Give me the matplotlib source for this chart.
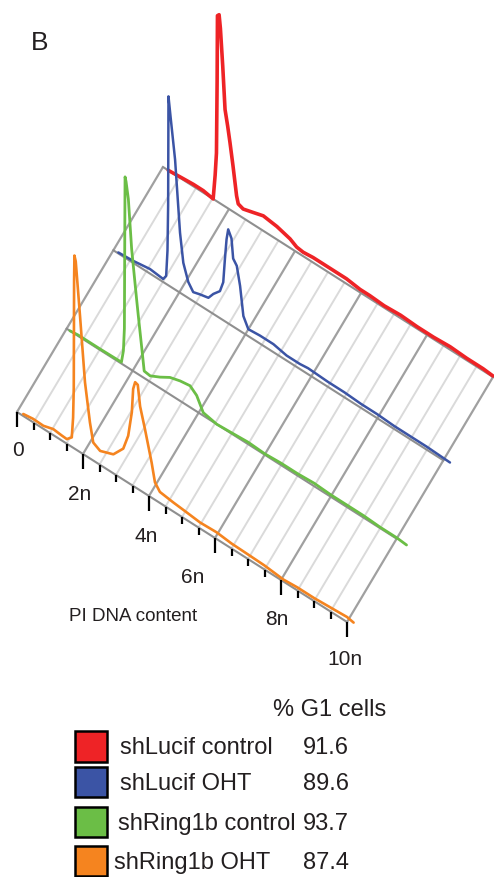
import numpy as np
import matplotlib
matplotlib.use("Agg")
import matplotlib.pyplot as plt
from matplotlib.transforms import Affine2D
from matplotlib.patches import Rectangle

plt.rcParams['font.family'] = ['Liberation Sans', 'DejaVu Sans']

# ---------------- data (DNA content in units of n, cell counts a.u.) ----------------
series_names = ["shLucif control", "shLucif OHT", "shRing1b control", "shRing1b OHT"]
g1_percent = ["91.6", "89.6", "93.7", "87.4"]
colors = ["#EE2326", "#3B54A5", "#6BBE46", "#F5841F"]

red_dna = [0.16, 0.52, 0.92, 1.22, 1.52, 1.58, 1.62, 1.64, 1.65, 1.70, 1.74, 1.81, 1.88,
           1.96, 2.03, 2.12, 2.23, 2.28, 2.43, 2.74, 3.04, 3.24, 3.45, 3.65, 3.85, 4.05,
           4.25, 4.55, 4.96, 5.26, 5.56, 5.97, 6.27, 6.7, 7.2, 7.7, 8.2, 8.7, 9.2, 9.7, 10.0]
red_cnt = [0, 1, 2, 2, 0, 25, 48, 120, 186, 188, 175, 139, 97,
           82, 67, 46, 18, 11, 9, 12, 15, 14, 13, 11, 9, 5,
           4, 5, 5, 5, 5, 3, 3, 2, 3, 2, 2, 3, 2, 2, 1]

blue_dna = [0.15, 0.59, 1.11, 1.51, 1.60, 1.64, 1.66, 1.67, 1.74, 1.87, 2.02, 2.12, 2.27,
            2.42, 2.62, 2.88, 3.03, 3.23, 3.33, 3.38, 3.43, 3.48, 3.58, 3.63, 3.74, 3.84,
            3.94, 4.09, 4.44, 4.85, 5.25, 5.65, 5.9, 6.5, 7.0, 7.5, 8.0, 8.5, 9.0, 9.5, 10.2]
blue_cnt = [1, 2, 4.6, 3, 8, 34, 80, 189, 168, 130, 60, 32, 16,
            9, 11, 13, 20, 27, 38, 62, 83, 94, 87, 68, 63, 45,
            17, 7, 8, 8, 5, 5, 6, 5, 5, 4, 4, 3, 3, 3, 2]

green_dna = [0.10, 0.35, 1.01, 1.66, 1.72, 1.75, 1.76, 1.77, 1.80, 1.87, 1.97, 2.12, 2.17,
             2.28, 2.35, 2.53, 2.83, 3.13, 3.44, 3.74, 3.94, 4.14, 4.55, 5.05, 5.5, 6.0,
             6.5, 7.0, 7.5, 8.0, 8.5, 9.0, 9.5, 10.0, 10.3]
green_cnt = [0, 1, 1, 1.4, 14, 37, 117, 189, 185, 169, 121, 74, 59,
             27.5, 7, 6, 11, 17, 20, 21.5, 16, 3, 0, 1, 2, 1,
             2, 2, 3, 2, 2, 2, 1, 1, 0]

orange_dna = [0.19, 0.49, 0.80, 1.10, 1.35, 1.51, 1.66, 1.70, 1.72, 1.73, 1.74, 1.78, 1.91,
              2.06, 2.21, 2.31, 2.52, 2.92, 3.22, 3.37, 3.48, 3.52, 3.58, 3.66, 3.73, 3.88,
              4.08, 4.18, 4.33, 4.74, 5.14, 5.55, 6.05, 6.5, 7.06, 7.5, 8.07, 8.5, 9.0,
              9.5, 10.0, 10.2]
orange_cnt = [2, 3.4, 3, 6, 5, 4.6, 9.5, 30, 60, 167, 193, 188, 136,
              73, 36, 18, 14, 19, 31, 47, 73, 97, 105, 104, 84, 64,
              35, 17.5, 11, 9, 7.6, 6, 6.7, 5, 4.5, 4, 2, 3, 3,
              4, 5, 3.6]

series_dna = [red_dna, blue_dna, green_dna, orange_dna]
series_cnt = [red_cnt, blue_cnt, green_cnt, orange_cnt]

tick_values = [0, 2, 4, 6, 8, 10]
tick_labels = ["0", "2n", "4n", "6n", "8n", "10n"]

# ---------------- layout / projection ----------------
W, H = 494, 878
fig = plt.figure(figsize=(W / 100, H / 100), dpi=100)
ax = fig.add_axes([0, 0, 1, 1])
ax.set_xlim(0, W)
ax.set_ylim(H, 0)
ax.axis("off")

ORIGIN = (17.0, 413.0)
NVEC = (33.0, 21.0)       # screen shift per 1n
DVEC = (146.0, -245.0)    # screen shift front -> back
depths = [1.0, 0.66, 0.34, 0.0]
line_w = [2.6, 1.8, 2.0, 1.9]


def curve_tr(d):
    m = np.array([[NVEC[0], 0.0, ORIGIN[0] + DVEC[0] * d],
                  [NVEC[1], -1.0, ORIGIN[1] + DVEC[1] * d],
                  [0, 0, 1]])
    return Affine2D(m) + ax.transData


floor_tr = Affine2D(np.array([[NVEC[0], DVEC[0], ORIGIN[0]],
                              [NVEC[1], DVEC[1], ORIGIN[1]],
                              [0, 0, 1]])) + ax.transData

# floor grid lines
grid_pos = np.arange(0, 10.01, 0.5)
for g in grid_pos:
    major = abs(g / 2 - round(g / 2)) < 1e-6
    ax.plot([g, g], [0, 1], transform=floor_tr,
            color="#a0a0a0" if major else "#dadada",
            lw=1.6 if major else 1.4, zorder=2 if major else 1,
            solid_capstyle="butt")

# series baselines
for d in depths:
    ax.plot([0, 10], [d, d], transform=floor_tr, color="#8f8f8f", lw=1.5, zorder=3)

# curves, back to front
for i, (xs, ys) in enumerate(zip(series_dna, series_cnt)):
    ax.plot(xs, ys, transform=curve_tr(depths[i]), color=colors[i], lw=line_w[i],
            zorder=4 + i, solid_joinstyle="round", solid_capstyle="round")

# front axis ticks
front = curve_tr(0.0)
for g in grid_pos:
    major = abs(g / 2 - round(g / 2)) < 1e-6
    ax.plot([g, g], [0, -15 if major else -7], transform=front, color="black",
            lw=1.6, zorder=3, solid_capstyle="butt")

label_offsets = [(1, -38), (-3, -40), (-3, -40), (-22, -39), (-4, -39), (-2, -37)]
for v, lab, off in zip(tick_values, tick_labels, label_offsets):
    ax.annotate(lab, xy=(v, 0), xycoords=front, xytext=off, textcoords="offset pixels",
                ha="center", va="center", fontsize=15, color="#231F20")

ax.text(133, 617, "PI DNA content", ha="center", va="center", fontsize=13.5, color="#231F20")
ax.text(40, 43, "B", ha="center", va="center", fontsize=19, color="#231F20")

# legend
ax.text(273, 716.5, "% G1 cells", ha="left", va="baseline", fontsize=17, color="#231F20")
sq_top = [732, 768, 808, 847]
txt_x = [120, 120, 118, 114]
txt_base = [754, 790, 830.5, 869]
for i in range(4):
    ax.add_patch(Rectangle((75, sq_top[i]), 32, 30.5, facecolor=colors[i],
                           edgecolor="black", lw=1.8, zorder=5))
    ax.text(txt_x[i], txt_base[i], series_names[i], ha="left", va="baseline",
            fontsize=17, color="#231F20")
    ax.text(303, txt_base[i], g1_percent[i], ha="left", va="baseline",
            fontsize=17, color="#231F20")

fig.savefig("out.png", dpi=100)
